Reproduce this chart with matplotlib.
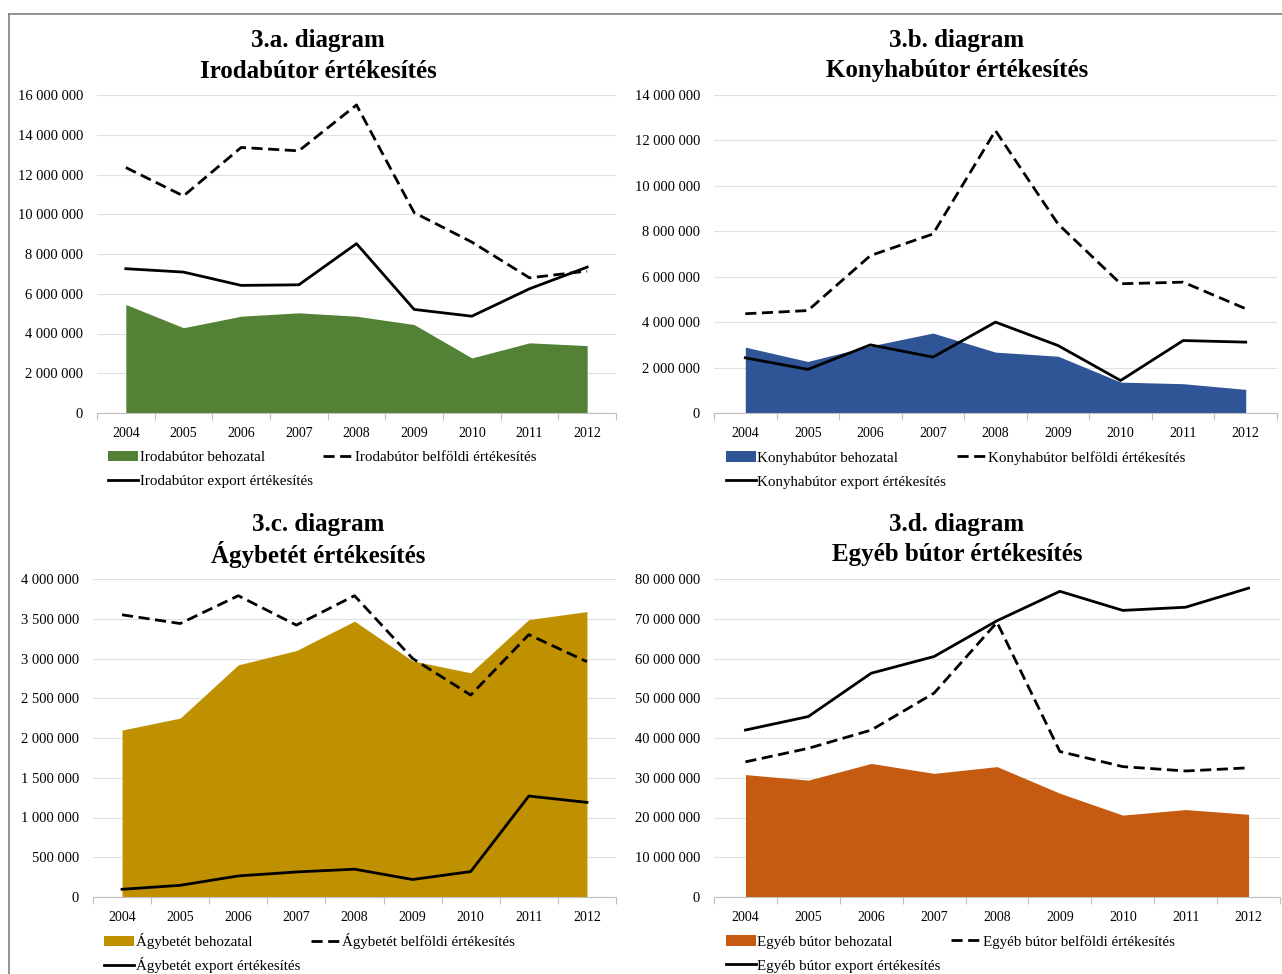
import matplotlib.pyplot as plt
from matplotlib.ticker import FuncFormatter, MultipleLocator, FixedLocator
from matplotlib.lines import Line2D

plt.rcParams['font.family'] = ['Liberation Serif', 'DejaVu Serif']

years = ['2004', '2005', '2006', '2007', '2008', '2009', '2010', '2011', '2012']

# 3.a. Irodabútor
iroda_behozatal = [5.46e6, 4.29e6, 4.87e6, 5.04e6, 4.87e6, 4.45e6, 2.77e6, 3.53e6, 3.39e6]
iroda_belfoldi = [12.35e6, 10.92e6, 13.36e6, 13.19e6, 15.5e6, 10.08e6, 8.6e6, 6.8e6, 7.14e6]
iroda_export = [7.26e6, 7.09e6, 6.42e6, 6.45e6, 8.52e6, 5.21e6, 4.87e6, 6.25e6, 7.34e6]

# 3.b. Konyhabútor
konyha_behozatal = [2.9e6, 2.27e6, 2.95e6, 3.52e6, 2.68e6, 2.5e6, 1.36e6, 1.29e6, 1.04e6]
konyha_belfoldi = [4.37e6, 4.51e6, 6.93e6, 7.88e6, 12.43e6, 8.32e6, 5.69e6, 5.76e6, 4.59e6]
konyha_export = [2.43e6, 1.92e6, 3.0e6, 2.46e6, 4.0e6, 2.97e6, 1.43e6, 3.19e6, 3.12e6]

# 3.c. Ágybetét
agy_behozatal = [2.10e6, 2.25e6, 2.92e6, 3.10e6, 3.47e6, 2.97e6, 2.82e6, 3.49e6, 3.59e6]
agy_belfoldi = [3.55e6, 3.44e6, 3.79e6, 3.42e6, 3.79e6, 3.0e6, 2.54e6, 3.30e6, 2.96e6]
agy_export = [0.097e6, 0.147e6, 0.265e6, 0.315e6, 0.35e6, 0.22e6, 0.32e6, 1.27e6, 1.19e6]

# 3.d. Egyéb bútor
egyeb_behozatal = [30.8e6, 29.4e6, 33.6e6, 31.1e6, 32.8e6, 26.1e6, 20.6e6, 22.0e6, 20.8e6]
egyeb_belfoldi = [34.0e6, 37.4e6, 42.0e6, 51.3e6, 69.1e6, 36.6e6, 32.8e6, 31.7e6, 32.5e6]
egyeb_export = [42.0e6, 45.4e6, 56.3e6, 60.5e6, 69.5e6, 76.9e6, 72.1e6, 72.9e6, 77.7e6]

W, H = 1282, 974
fig = plt.figure(figsize=(W / 100, H / 100), dpi=100)


def fmt(v, pos):
    return f"{int(round(v)):,}".replace(',', ' ')


def panel(rect, code, name, label, beh, bel, exp, color, ymax, step, title_x, title_y,
          leg_y=-0.1, leg_sp=0.7):
    left, top, right, bottom = rect
    ax = fig.add_axes([left / W, 1 - bottom / H, (right - left) / W, (bottom - top) / H])
    x = list(range(len(years)))
    area = ax.fill_between(x, 0, beh, color=color, linewidth=0, zorder=2,
                           label=f'{label} behozatal')
    l_bel, = ax.plot(x, bel, color='black', lw=2.0, dashes=(4, 2), zorder=3,
                     label=f'{label} belföldi értékesítés')
    l_exp, = ax.plot(x, exp, color='black', lw=2.0, zorder=3,
                     label=f'{label} export értékesítés')
    ax.set_xlim(-0.5, len(years) - 0.5)
    ax.set_ylim(0, ymax)
    ax.yaxis.set_major_locator(MultipleLocator(step))
    ax.yaxis.set_major_formatter(FuncFormatter(fmt))
    ax.set_xticks(x)
    ax.set_xticklabels(years)
    ax.xaxis.set_minor_locator(FixedLocator([i - 0.5 for i in range(len(years) + 1)]))
    ax.tick_params(axis='x', which='major', length=0, pad=10, labelsize=10)
    ax.tick_params(axis='x', which='minor', length=5, color='#BFBFBF', width=0.8)
    ax.tick_params(axis='y', length=0, pad=10, labelsize=10.5)
    ax.grid(axis='y', color='#E0E0E0', lw=0.8, zorder=0)
    ax.set_axisbelow(True)
    for s in ['top', 'right', 'left']:
        ax.spines[s].set_visible(False)
    ax.spines['bottom'].set_color('#BFBFBF')
    ax.spines['bottom'].set_zorder(4)
    ax.legend(handles=[area, l_exp, l_bel], ncol=2, loc='upper left',
              bbox_to_anchor=(0.01, leg_y), frameon=False, fontsize=10.8,
              handlelength=2.0, handletextpad=0.1, columnspacing=0.7,
              labelspacing=leg_sp, borderaxespad=0.0)
    fig.text(title_x / W, 1 - title_y / H, f'{code} diagram',
             ha='center', va='center', fontsize=18, fontweight='bold')
    fig.text(title_x / W, 1 - (title_y + 30) / H, name,
             ha='center', va='center', fontsize=18, fontweight='bold')
    return ax


panel((97, 95, 616, 413), '3.a.', 'Irodabútor értékesítés', 'Irodabútor',
      iroda_behozatal, iroda_belfoldi, iroda_export, '#538135', 16e6, 2e6, 318, 41)
panel((714, 95, 1277, 413), '3.b.', 'Konyhabútor értékesítés', 'Konyhabútor',
      konyha_behozatal, konyha_belfoldi, konyha_export, '#2F5597', 14e6, 2e6, 957, 41)
panel((93, 579, 616, 897), '3.c.', 'Ágybetét értékesítés', 'Ágybetét',
      agy_behozatal, agy_belfoldi, agy_export, '#BF9000', 4e6, 0.5e6, 318, 524,
      leg_y=-0.095, leg_sp=0.55)
panel((714, 579, 1280, 897), '3.d.', 'Egyéb bútor értékesítés', 'Egyéb bútor',
      egyeb_behozatal, egyeb_belfoldi, egyeb_export, '#C55A11', 80e6, 10e6, 957, 524)

# outer frame (top and left edges)
fig.add_artist(Line2D([9 / W, 1], [1 - 14 / H, 1 - 14 / H], color='#7F7F7F', lw=1.2))
fig.add_artist(Line2D([9 / W, 9 / W], [0, 1 - 14 / H], color='#7F7F7F', lw=1.2))

fig.savefig('out.png', dpi=100, facecolor='white')
